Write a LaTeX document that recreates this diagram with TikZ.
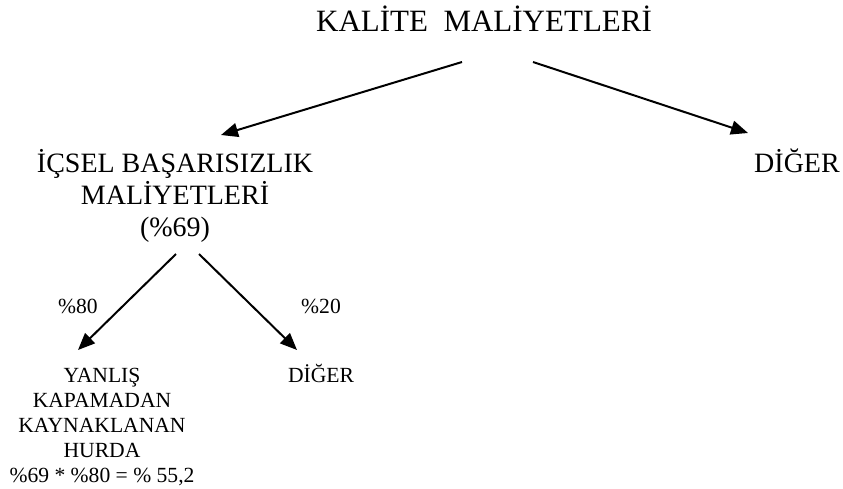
\documentclass[tikz,border=0pt]{standalone}
\usepackage{fontspec}
\setmainfont{Liberation Serif}
\usetikzlibrary{arrows.meta}

\begin{document}
\begin{tikzpicture}[x=1pt,y=-1pt,
	big/.style={font=\fontsize{28}{32}\selectfont, align=center, inner sep=0pt, anchor=base},
	small/.style={font=\fontsize{21.6}{25}\selectfont, align=center, inner sep=0pt, anchor=base},
	arr/.style={line width=2pt, -{Triangle[length=17pt,width=14pt]}}]
	
	\useasboundingbox (0,0) rectangle (843,488);
	
	\node[big,font=\fontsize{31}{34}\selectfont] (kalite) at (484,31) {KALİTE\ \ MALİYETLERİ};
	\node[big] (icsel) at (175,236) {İÇSEL BAŞARISIZLIK\\MALİYETLERİ\\(\%69)};
	\node[big] (diger) at (797,172) {DİĞER};
	
	\node[small] (p80) at (78,313) {\%80};
	\node[small] (p20) at (321,313) {\%20};
	\node[small] (hurda) at (102,482.5) {YANLIŞ\\KAPAMADAN\\KAYNAKLANAN\\HURDA\\\%69 * \%80 = \% 55,2};
	\node[small] (diger2) at (321,382.5) {DİĞER};
	
	\draw[arr] ([shift={(-22,31)}]kalite.base) -- ([shift={(46,-101)}]icsel.base);
	\draw[arr] ([shift={(49,31)}]kalite.base) -- ([shift={(-49,-39)}]diger.base);
	\draw[arr] ([shift={(1,18)}]icsel.base) -- ([shift={(-24,-132.5)}]hurda.base);
	\draw[arr] ([shift={(24,18)}]icsel.base) -- ([shift={(-24,-32.5)}]diger2.base);
\end{tikzpicture}
\end{document}
